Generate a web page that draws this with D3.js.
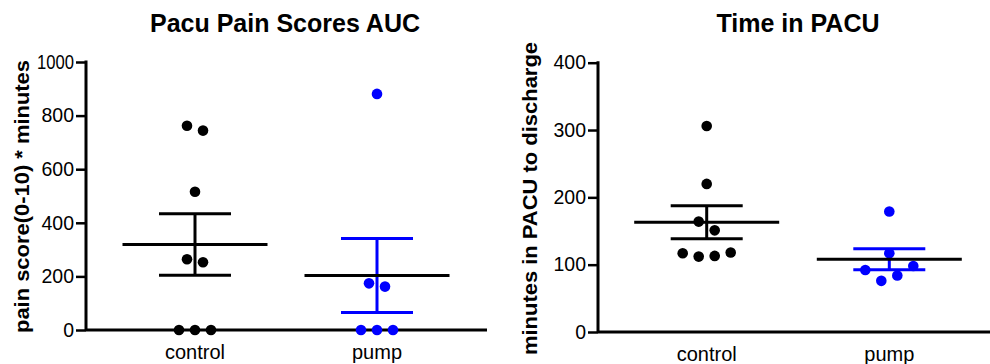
<!DOCTYPE html>
<html><head><meta charset="utf-8">
<script src="https://cdn.jsdelivr.net/npm/d3@7"></script>
<style>body{margin:0;background:#fff;} text{font-family:"Liberation Sans",Arial,sans-serif;}</style>
</head><body>
<svg id="c" width="990" height="364"></svg>
<script>
const categories = ["control", "pump"];
// Chart 1: Pacu Pain Scores AUC
const painControl = [762, 744, 516, 264, 253, 0, 0, 0];
const painControlOffsets = [-1, 1, 0, -1, 1, -2, 0, 2];
const painPump = [881, 174, 162, 0, 0, 0];
const painPumpOffsets = [0, -1, 1, -2, 0, 2];
const painMean = [319, 203];
const painSem = [115, 138];
const painTicks = [0, 200, 400, 600, 800, 1000];
// Chart 2: Time in PACU
const timeControl = [306, 220, 164, 151, 117, 112, 113, 118];
const timeControlOffsets = [0, 0, -1, 1, -3, -1, 1, 3];
const timePump = [179, 117, 92, 98, 76, 84];
const timePumpOffsets = [0, 0, -3, 3, -1, 1];
const timeMean = [163, 108];
const timeSem = [24.5, 15.6];
const timeTicks = [0, 100, 200, 300, 400];

const svg = d3.select("#c");
const colors = ["#000000", "#0000ff"];

function panel(o) {
  const g = svg.append("g");
  const y = d3.scaleLinear().domain([0, o.ymax]).range([o.y0, o.y1]);
  const x = d3.scalePoint().domain(categories).range([o.cx0, o.cx1]);
  const ya = d3.axisLeft(y).tickValues(o.ticks).tickFormat(d3.format("d")).tickSize(10).tickPadding(2);
  const yg = g.append("g").attr("transform", `translate(${o.ax},0)`).call(ya);
  yg.select(".domain").attr("stroke-width", 3).attr("d", `M0,${o.y1 - 1.5}V${o.y0}`);
  yg.selectAll(".tick line").attr("stroke-width", 2.5);
  yg.selectAll(".tick text").attr("font-size", 19.5).attr("fill", "#000")
    .attr("font-family", "Liberation Sans, Arial, sans-serif")
    .each(function(d) { if (String(d).length > 3) d3.select(this).attr("textLength", 37).attr("lengthAdjust", "spacingAndGlyphs"); });
  g.append("line").attr("x1", o.ax).attr("x2", o.axEnd).attr("y1", o.y0).attr("y2", o.y0)
    .attr("stroke", "#000").attr("stroke-width", 3);
  categories.forEach(c => {
    g.append("text").attr("x", x(c)).attr("y", o.xlabY).attr("text-anchor", "middle")
      .attr("font-size", 20).text(c);
  });
  g.append("text").attr("x", o.titleX).attr("y", 32).attr("text-anchor", "middle")
    .attr("font-size", 25).attr("font-weight", "bold").text(o.title);
  g.append("text").attr("transform", `translate(${o.ylabX},${o.ylabY}) rotate(-90)`)
    .attr("text-anchor", "middle").attr("font-size", 20).attr("font-weight", "bold")
    .attr("textLength", o.ylabLen).attr("lengthAdjust", "spacingAndGlyphs").text(o.ylabel);
  o.series.forEach((vals, i) => {
    const offs = o.offsets[i];
    g.selectAll(null).data(vals).enter().append("circle")
      .attr("cx", (d, j) => x(categories[i]) + offs[j] * o.dx)
      .attr("cy", d => y(d)).attr("r", 5.3).attr("fill", colors[i]);
  });
  categories.forEach((c, i) => {
    const cx = x(c), m = o.mean[i], s = o.sem[i], col = colors[i];
    g.append("line").attr("x1", cx).attr("x2", cx).attr("y1", y(m + s)).attr("y2", y(m - s))
      .attr("stroke", col).attr("stroke-width", 3);
    [m + s, m - s].forEach(v => g.append("line").attr("x1", cx - 36).attr("x2", cx + 36)
      .attr("y1", y(v)).attr("y2", y(v)).attr("stroke", col).attr("stroke-width", 3));
    g.append("line").attr("x1", cx - 72.5).attr("x2", cx + 72.5).attr("y1", y(m)).attr("y2", y(m))
      .attr("stroke", "#000").attr("stroke-width", 3);
  });
}

panel({ymax: 1000, y0: 330, y1: 62, ax: 86, axEnd: 487, cx0: 195, cx1: 377,
  ticks: painTicks, title: "Pacu Pain Scores AUC", titleX: 285, ylabel: "pain score(0-10) * minutes",
  ylabX: 29, ylabY: 196.5, ylabLen: 273, xlabY: 359, series: [painControl, painPump],
  offsets: [painControlOffsets, painPumpOffsets], dx: 8, mean: painMean, sem: painSem});
panel({ymax: 400, y0: 332, y1: 62.7, ax: 598, axEnd: 990, cx0: 706.7, cx1: 889.3,
  ticks: timeTicks, title: "Time in PACU", titleX: 798, ylabel: "minutes in PACU to discharge",
  ylabX: 537, ylabY: 198.5, ylabLen: 313, xlabY: 361, series: [timeControl, timePump],
  offsets: [timeControlOffsets, timePumpOffsets], dx: 8, mean: timeMean, sem: timeSem});
</script>
</body></html>
